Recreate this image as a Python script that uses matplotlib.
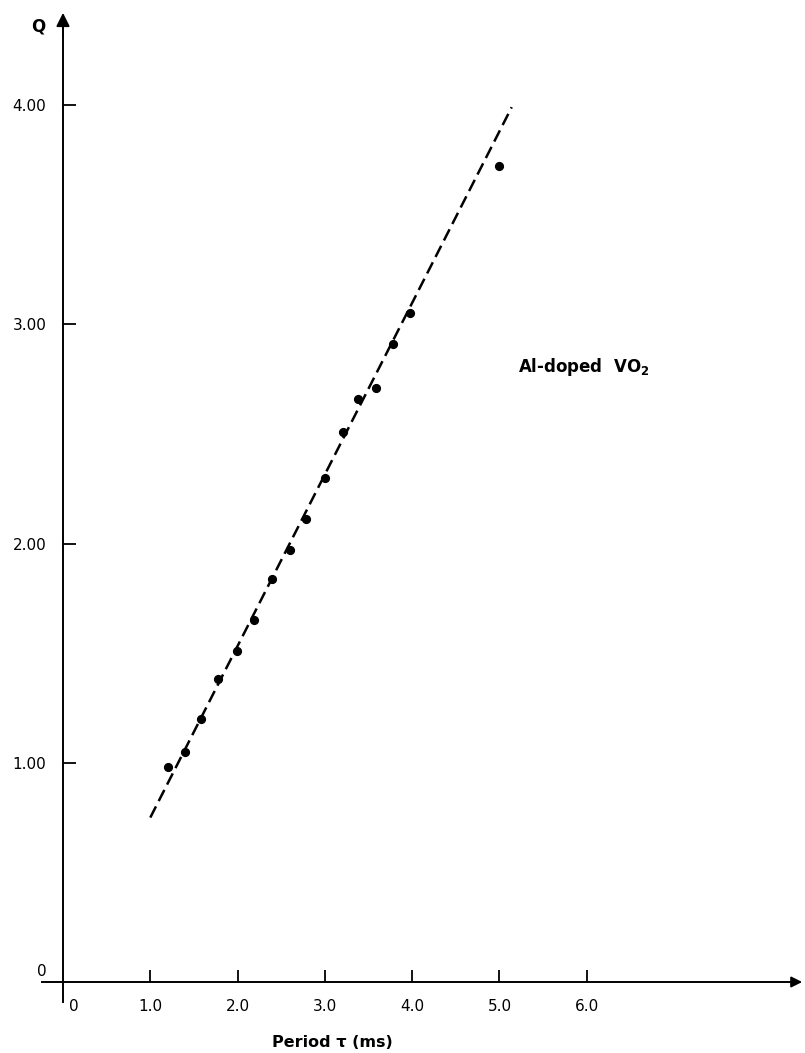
import matplotlib
matplotlib.use("Agg")
from matplotlib import pyplot as plt

# measured points, Al-doped VO2
period = [1.20, 1.40, 1.58, 1.78, 1.99, 2.19, 2.39, 2.60, 2.78, 3.00,
          3.21, 3.38, 3.59, 3.78, 3.98, 4.99]
q_vals = [0.98, 1.05, 1.20, 1.38, 1.51, 1.65, 1.84, 1.97, 2.11, 2.30,
          2.51, 2.66, 2.71, 2.91, 3.05, 3.72]

# dashed fit line end points
fit_x = [1.0, 5.14]
fit_q = [0.75, 3.99]

x_ticks = [1.0, 2.0, 3.0, 4.0, 5.0, 6.0]
x_labels = ["1.0", "2.0", "3.0", "4.0", "5.0", "6.0"]
y_ticks = [1.0, 2.0, 3.0, 4.0]
y_labels = ["1.00", "2.00", "3.00", "4.00"]

fig = plt.figure(figsize=(8.05, 10.53), dpi=100)
ax = fig.add_axes([0, 0, 1, 1])
ax.set_xlim(-0.7216, 8.4994)
ax.set_ylim(-0.3238, 4.4789)

ax.plot(fit_x, fit_q, color="black", lw=1.8, linestyle=(0, (5, 2.4)))
ax.plot(period, q_vals, "o", color="black", markersize=5.6)

# axes drawn as crossing lines with arrow heads
for side in ["top", "right"]:
    ax.spines[side].set_visible(False)
ax.spines["left"].set_position(("data", 0))
ax.spines["bottom"].set_position(("data", 0))
ax.spines["left"].set_bounds(-0.091, 4.35)
ax.spines["bottom"].set_bounds(-0.24, 8.4)
ax.spines["left"].set_linewidth(1.4)
ax.spines["bottom"].set_linewidth(1.4)
ax.annotate("", xy=(0, 4.433), xytext=(0, 4.3),
            arrowprops=dict(arrowstyle="-|>", color="black", lw=1.4, mutation_scale=20))
ax.annotate("", xy=(8.499, 0), xytext=(8.3, 0),
            arrowprops=dict(arrowstyle="-|>", color="black", lw=1.4, mutation_scale=16))

ax.set_xticks(x_ticks)
ax.set_xticklabels(x_labels)
ax.set_yticks(y_ticks)
ax.set_yticklabels(y_labels)
ax.tick_params(direction="in", length=9, width=1.3, labelsize=11, pad=12)

ax.text(-0.24, 0.046, "0", fontsize=11, ha="center", va="center")
ax.text(0.126, -0.11, "0", fontsize=11, ha="center", va="center")
ax.text(-0.286, 4.356, "Q", fontsize=12, fontweight="bold", ha="center", va="center")
ax.text(3.09, -0.274, "Period \u03c4 (ms)", fontsize=11.5, fontweight="bold",
        ha="center", va="center")
ax.text(5.21, 2.805, r"Al-doped  VO$_\mathbf{2}$", fontsize=12, fontweight="bold",
        ha="left", va="center")

fig.savefig("out.png", dpi=100)
